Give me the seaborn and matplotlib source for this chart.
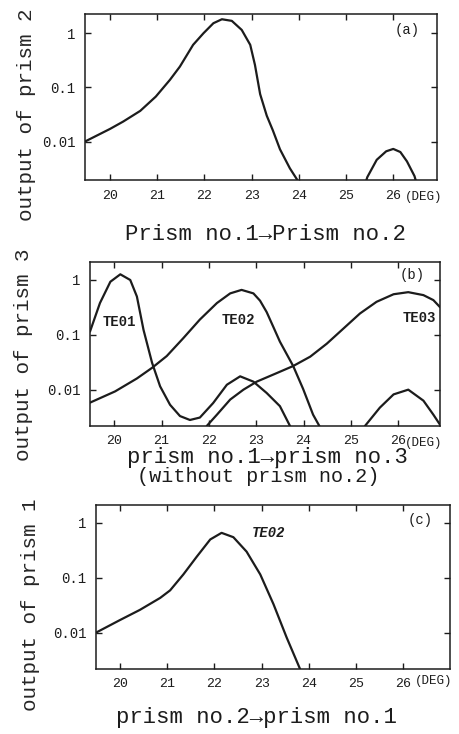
import seaborn as sns
import matplotlib.pyplot as plt
from matplotlib.ticker import NullLocator

# tick values shared by the three panels
deg_ticks = [20, 21, 22, 23, 24, 25, 26]
deg_labels = ["20", "21", "22", "23", "24", "25", "26"]
out_ticks = [1, 0.1, 0.01]
out_labels = ["1", "0.1", "0.01"]

# (a) prism no.1 -> prism no.2
a_deg = [19.47, 20.0, 20.28, 20.64, 20.97, 21.27, 21.48, 21.76, 21.98, 22.19, 22.37,
         22.58, 22.79, 22.97, 23.07, 23.18, 23.32, 23.45, 23.6, 23.81, 23.96, 24.05]
a_out = [0.010, 0.0171, 0.0234, 0.0368, 0.0676, 0.138, 0.242, 0.61, 1.0, 1.53, 1.81,
         1.69, 1.15, 0.61, 0.26, 0.075, 0.03, 0.016, 0.0072, 0.0032, 0.0020, 0.0012]
a2_deg = [25.38, 25.45, 25.65, 25.85, 26.0, 26.15, 26.29, 26.45, 26.52]
a2_out = [0.0014, 0.0022, 0.0046, 0.0066, 0.0073, 0.0064, 0.0043, 0.0023, 0.0014]

# (b) prism no.1 -> prism no.3
te01_deg = [19.49, 19.70, 19.92, 20.13, 20.34, 20.48, 20.62, 20.80, 20.97, 21.18, 21.39,
            21.60, 21.81, 22.09, 22.38, 22.66, 22.94, 23.22, 23.50, 23.71, 23.80]
te01_out = [0.115, 0.38, 0.93, 1.27, 1.0, 0.50, 0.123, 0.031, 0.0115, 0.0053, 0.0033,
            0.0028, 0.0031, 0.0057, 0.0123, 0.0175, 0.014, 0.0087, 0.005, 0.0022, 0.0012]
te02_deg = [19.49, 20.02, 20.48, 20.80, 21.11, 21.46, 21.81, 22.17, 22.45, 22.69,
            22.94, 23.08, 23.22, 23.36, 23.50, 23.78, 23.99, 24.20, 24.33, 24.42]
te02_out = [0.0058, 0.0093, 0.016, 0.025, 0.041, 0.087, 0.19, 0.38, 0.57, 0.66,
            0.57, 0.42, 0.26, 0.14, 0.075, 0.027, 0.0103, 0.0035, 0.0022, 0.0012]
side_deg = [25.22, 25.30, 25.61, 25.90, 26.21, 26.53, 26.74, 26.88]
side_out = [0.0014, 0.0022, 0.0047, 0.0082, 0.010, 0.0063, 0.0035, 0.0023]
te03_deg = [21.88, 21.96, 22.17, 22.45, 22.73, 23.01, 23.43, 23.78, 24.14, 24.49,
            24.84, 25.19, 25.54, 25.90, 26.21, 26.53, 26.74, 26.88]
te03_out = [0.0014, 0.0022, 0.0035, 0.0066, 0.010, 0.014, 0.020, 0.027, 0.040, 0.069,
            0.13, 0.245, 0.40, 0.55, 0.60, 0.53, 0.43, 0.32]

# (c) prism no.2 -> prism no.1
c_deg = [19.49, 20.0, 20.42, 20.85, 21.06, 21.34, 21.62, 21.91, 22.15, 22.40,
         22.68, 22.97, 23.25, 23.53, 23.81, 23.9]
c_out = [0.01, 0.017, 0.026, 0.043, 0.059, 0.115, 0.24, 0.50, 0.66, 0.55,
         0.30, 0.115, 0.033, 0.0081, 0.0022, 0.0012]

ink = "#1c1c1c"
sns.set_style("ticks")
plt.rcParams["font.family"] = ["Liberation Mono", "DejaVu Sans Mono"]
plt.rcParams["axes.edgecolor"] = ink
plt.rcParams["axes.linewidth"] = 1.1
plt.rcParams["text.color"] = ink

fig = plt.figure(figsize=(4.59, 7.34), dpi=100)


def setup(ax, xlim, ylim, ylabel, lab_xy):
    ax.set_yscale("log")
    ax.set_xlim(*xlim)
    ax.set_ylim(*ylim)
    ax.set_xticks(deg_ticks)
    ax.set_xticklabels(deg_labels)
    ax.set_yticks(out_ticks)
    ax.set_yticklabels(out_labels)
    ax.yaxis.set_minor_locator(NullLocator())
    ax.xaxis.set_minor_locator(NullLocator())
    ax.tick_params(direction="in", top=True, right=True, length=4, width=1, colors=ink)
    ax.tick_params(axis="x", labelsize=9.5, pad=7)
    ax.tick_params(axis="y", labelsize=10, pad=7)
    ax.set_xlabel("")
    ax.set_ylabel(ylabel, fontsize=15)
    ax.yaxis.set_label_coords(*lab_xy)
    ax.yaxis.label.set_va("center")


def curve(ax, x, y):
    sns.lineplot(x=x, y=y, ax=ax, color=ink, lw=1.6, estimator=None, sort=False)


# panel (a)
ax1 = fig.add_axes([0.1852, 0.7548, 0.7662, 0.2258])
curve(ax1, a_deg, a_out)
curve(ax1, a2_deg, a2_out)
setup(ax1, (19.47, 26.92), (0.00195, 2.24), "output of prism 2", (-0.165, 0.392))
ax1.text(26.29, 1.15, "(a)", fontsize=10, ha="center", va="center")
ax1.text(0.91, -0.101, "(DEG)", transform=ax1.transAxes, fontsize=9, ha="left", va="center")
fig.text(0.578, 1 - 235 / 734, "Prism no.1\u2192Prism no.2", fontsize=16, ha="center", va="center")

# panel (b)
ax2 = fig.add_axes([0.1961, 0.4200, 0.7625, 0.2226])
for xs, ys in [(te01_deg, te01_out), (te02_deg, te02_out), (side_deg, side_out), (te03_deg, te03_out)]:
    curve(ax2, xs, ys)
setup(ax2, (19.49, 26.88), (0.0022, 2.1), "output of prism 3", (-0.191, 0.433))
ax2.text(20.11, 0.17, "TE01", fontsize=10, fontweight="bold", ha="center", va="center")
ax2.text(22.62, 0.19, "TE02", fontsize=10, fontweight="bold", ha="center", va="center")
ax2.text(26.45, 0.2, "TE03", fontsize=10, fontweight="bold", ha="center", va="center")
ax2.text(26.3, 1.25, "(b)", fontsize=10, ha="center", va="center")
ax2.text(0.90, -0.108, "(DEG)", transform=ax2.transAxes, fontsize=9, ha="left", va="center")
fig.text(0.583, 1 - 458 / 734, "prism no.1\u2192prism no.3", fontsize=16, ha="center", va="center")
fig.text(0.563, 1 - 477 / 734, "(without prism no.2)", fontsize=14.5, ha="center", va="center")

# panel (c)
ax3 = fig.add_axes([0.2092, 0.0890, 0.7712, 0.2226])
curve(ax3, c_deg, c_out)
setup(ax3, (19.49, 26.99), (0.0022, 2.1), "output of prism 1", (-0.186, 0.39))
ax3.text(23.14, 0.66, "TE02", fontsize=10, fontstyle="italic", fontweight="bold",
         ha="center", va="center")
ax3.text(26.36, 1.15, "(c)", fontsize=10, ha="center", va="center")
ax3.text(0.901, -0.073, "(DEG)", transform=ax3.transAxes, fontsize=9, ha="left", va="center")
fig.text(0.559, 1 - 717 / 734, "prism no.2\u2192prism no.1", fontsize=16, ha="center", va="center")

fig.savefig("out.png", dpi=100, facecolor="white")
